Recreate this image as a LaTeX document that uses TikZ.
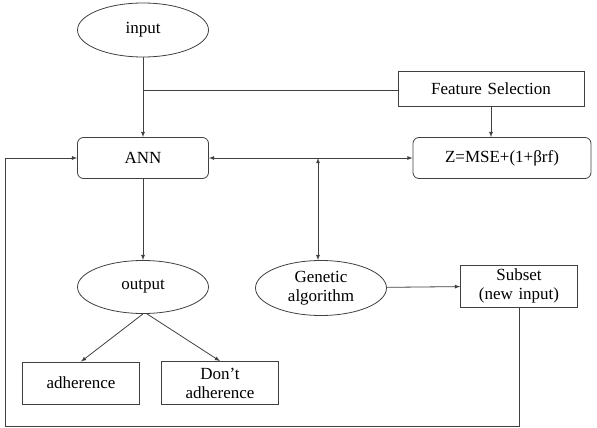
\documentclass[tikz,border=0pt]{standalone}
\usepackage{fontspec}
\setmainfont{Liberation Serif}
\usepackage{tikz}
\usetikzlibrary{arrows,shapes.geometric,positioning}
\tikzstyle{ellip} = [ellipse, draw, inner sep=0pt, minimum width=131pt, minimum height=54pt]
\tikzstyle{block} = [rectangle, draw, rounded corners=6pt, minimum width=131pt, minimum height=41pt]
\tikzstyle{box} = [rectangle, draw, inner sep=1pt, text width=115pt, text centered, minimum height=42pt]
\tikzstyle{line} = [draw, -latex]

\begin{document}
\begin{tikzpicture}[x=1pt, y=1pt, align=center, draw=black!75, line width=0.8pt,
    font=\fontsize{17}{19}\selectfont]
    \useasboundingbox (0,0) rectangle (597,-428);
    % Place nodes
    \node [ellip] (input) at (143,-30) {input};
    \node [block] (ANN) at (143,-158) {ANN};
    \node [box, text width=184pt, minimum height=35pt] (select) at (491,-89) {Feature Selection};
    \node [block, minimum width=178pt] (fitness) at (502,-158) {Z=MSE+(1+βrf)};
    \node [ellip, minimum height=53pt] (output) at (143,-287) {output};
    \node [ellip, minimum height=55pt] (GA) at (321,-288) {Genetic\\algorithm};
    \node [box] (subset) at (519,-286) {Subset\\(new input)};
    \node [box] (adh) at (81,-383) {adherence};
    \node [box, minimum height=43pt] (noadh) at (220,-383) {Don’t\\adherence};
    \coordinate (split) at (143,-90);
    \coordinate (cross) at (318,-158);
    \coordinate (corner) at (5,-426);
    % Draw edges
    \path [line] (input) -- (ANN);
    \draw (split) -- (split -| select.west);
    \path [line] (select) -- (select |- fitness.north);
    \path [draw, latex-latex] (ANN) -- (fitness);
    \path [draw, latex-latex] (cross) -- (cross |- GA.north);
    \path [line] (ANN) -- (output);
    \path [line] (output.south) -- (adh.north);
    \path [line] ([xshift=4pt]output.south) -- (noadh.north);
    \path [line] (GA) -- (subset);
    \path [line] (subset.south) |- (corner) |- (ANN.west);

\end{tikzpicture}
\end{document}
